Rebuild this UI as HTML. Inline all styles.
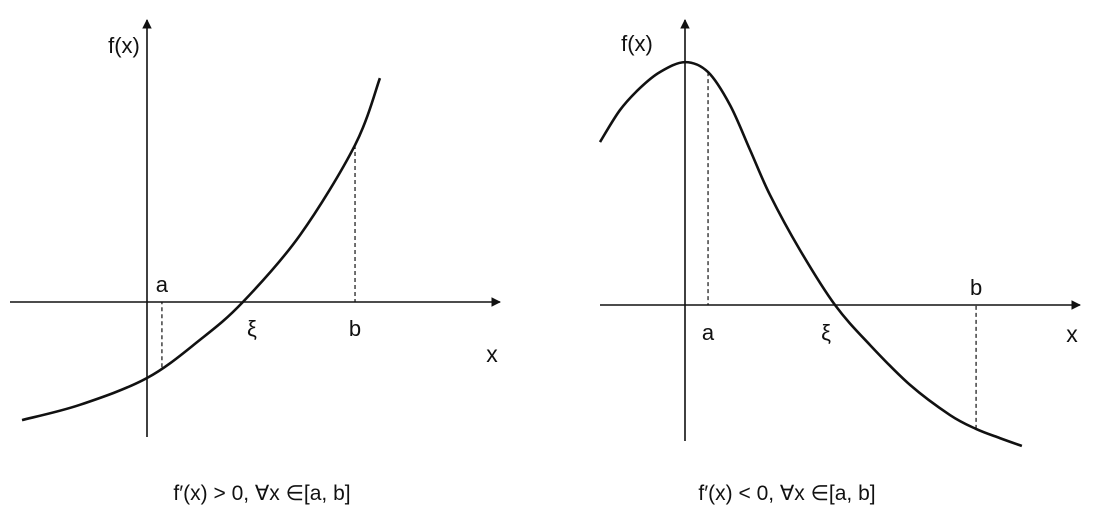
<!DOCTYPE html>
<html><head><meta charset="utf-8">
<style>
html,body{margin:0;padding:0;background:#fff;}
svg{display:block;}
text{font-family:"Liberation Sans",sans-serif;fill:#111;}
</style></head>
<body>
<svg id="c" width="1116" height="521" viewBox="0 0 1116 521">
<defs><marker id="ar" viewBox="0 0 10 10" refX="9" refY="5" markerWidth="6" markerHeight="6" orient="auto"><path d="M0,0 L10,5 L0,10 z" fill="#111"/></marker></defs>
</svg>
<script>
// Left panel curve (increasing)
const leftX = [-4.77, -2.56, 0.0, 2.02, 3.66, 5.84, 7.94, 8.89];
const leftY = [-4.8, -4.18, -3.09, -1.54, 0.0, 2.72, 6.38, 9.1];
// Right panel curve (decreasing)
const rightX = [-3.32, -2.54, -1.76, -0.98, 0.0, 0.90, 1.76, 2.54, 3.32, 4.49, 5.86, 7.23, 8.79, 10.35, 11.37, 12.30, 13.16];
const rightY = [6.22, 7.44, 8.28, 8.89, 9.27, 8.89, 7.63, 5.92, 4.20, 2.10, 0.0, -1.53, -3.05, -4.20, -4.73, -5.08, -5.38];
const leftLabels = ["a", "ξ", "b"];
const leftMarks = [0.57, 3.66, 7.94];
const rightLabels = ["a", "ξ", "b"];
const rightMarks = [0.9, 5.86, 11.37];

const svg = document.getElementById('c');
const NS = 'http://www.w3.org/2000/svg';
function mk(tag, attrs, parent){const e=document.createElementNS(NS,tag);for(const k in attrs)e.setAttribute(k,attrs[k]);(parent||svg).appendChild(e);return e;}

const lx = v => 147 + v*26.2;
const ly = v => 302 - v*24.6;
const rx = v => 685 + v*25.6;
const ry = v => 305 - v*26.2;

function smoothPath(xs, ys, fx, fy){
  const p = xs.map((x,i)=>[fx(x),fy(ys[i])]);
  let d = 'M'+p[0][0]+','+p[0][1];
  for(let i=0;i<p.length-1;i++){
    const p0=p[i-1]||p[i], p1=p[i], p2=p[i+1], p3=p[i+2]||p2;
    const c1=[p1[0]+(p2[0]-p0[0])/6, p1[1]+(p2[1]-p0[1])/6];
    const c2=[p2[0]-(p3[0]-p1[0])/6, p2[1]-(p3[1]-p1[1])/6];
    d+=` C${c1[0]},${c1[1]} ${c2[0]},${c2[1]} ${p2[0]},${p2[1]}`;
  }
  return d;
}
function interp(xs, ys, x){
  for(let i=0;i<xs.length-1;i++){ if(x>=xs[i]&&x<=xs[i+1]){const t=(x-xs[i])/(xs[i+1]-xs[i]);return ys[i]+t*(ys[i+1]-ys[i]);} }
  return 0;
}

let e;
e = mk('line',{x1:10,y1:302,x2:500,y2:302,stroke:'#111','stroke-width':1.6,'marker-end':'url(#ar)'});


e = mk('line',{x1:147,y1:437,x2:147,y2:20,stroke:'#111','stroke-width':1.6,'marker-end':'url(#ar)'});


e = mk('path',{d:smoothPath(leftX,leftY,lx,ly),fill:'none',stroke:'#111','stroke-width':2.6});


[0,2].forEach(i=>{
  const yv = interp(leftX,leftY,leftMarks[i]);
  e = mk('line',{x1:lx(leftMarks[i]),y1:ly(yv),x2:lx(leftMarks[i]),y2:302,stroke:'#111','stroke-width':1.2,'stroke-dasharray':'4,3'});
  
  
});
leftLabels.forEach((l,i)=>{
  const above = i===0;
  e = mk('text',{x:lx(leftMarks[i])+(i===1?9:0),y:above?292:336,'font-size':22,'text-anchor':'middle'});
  e.textContent=l;
  
  
});
e = mk('text',{x:124,y:53,'font-size':22,'text-anchor':'middle'}); e.textContent='f(x)';


e = mk('text',{x:492,y:362,'font-size':23,'text-anchor':'middle'}); e.textContent='x';


e = mk('text',{x:262,y:500,'font-size':21,'text-anchor':'middle'}); e.textContent='f′(x) > 0, ∀x ∈[a, b]';



e = mk('line',{x1:600,y1:305,x2:1080,y2:305,stroke:'#111','stroke-width':1.6,'marker-end':'url(#ar)'});


e = mk('line',{x1:685,y1:441,x2:685,y2:20,stroke:'#111','stroke-width':1.6,'marker-end':'url(#ar)'});


e = mk('path',{d:smoothPath(rightX,rightY,rx,ry),fill:'none',stroke:'#111','stroke-width':2.6});


[0,2].forEach(i=>{
  const yv = interp(rightX,rightY,rightMarks[i]);
  e = mk('line',{x1:rx(rightMarks[i]),y1:ry(yv),x2:rx(rightMarks[i]),y2:305,stroke:'#111','stroke-width':1.2,'stroke-dasharray':'4,3'});
  
  
});
rightLabels.forEach((l,i)=>{
  const above = i===2;
  e = mk('text',{x:rx(rightMarks[i])-(i===1?9:0),y:above?295:340,'font-size':22,'text-anchor':'middle'});
  e.textContent=l;
  
  
});
e = mk('text',{x:637,y:51,'font-size':22,'text-anchor':'middle'}); e.textContent='f(x)';


e = mk('text',{x:1072,y:342,'font-size':23,'text-anchor':'middle'}); e.textContent='x';


e = mk('text',{x:787,y:500,'font-size':21,'text-anchor':'middle'}); e.textContent='f′(x) < 0, ∀x ∈[a, b]';


</script>
</body></html>
